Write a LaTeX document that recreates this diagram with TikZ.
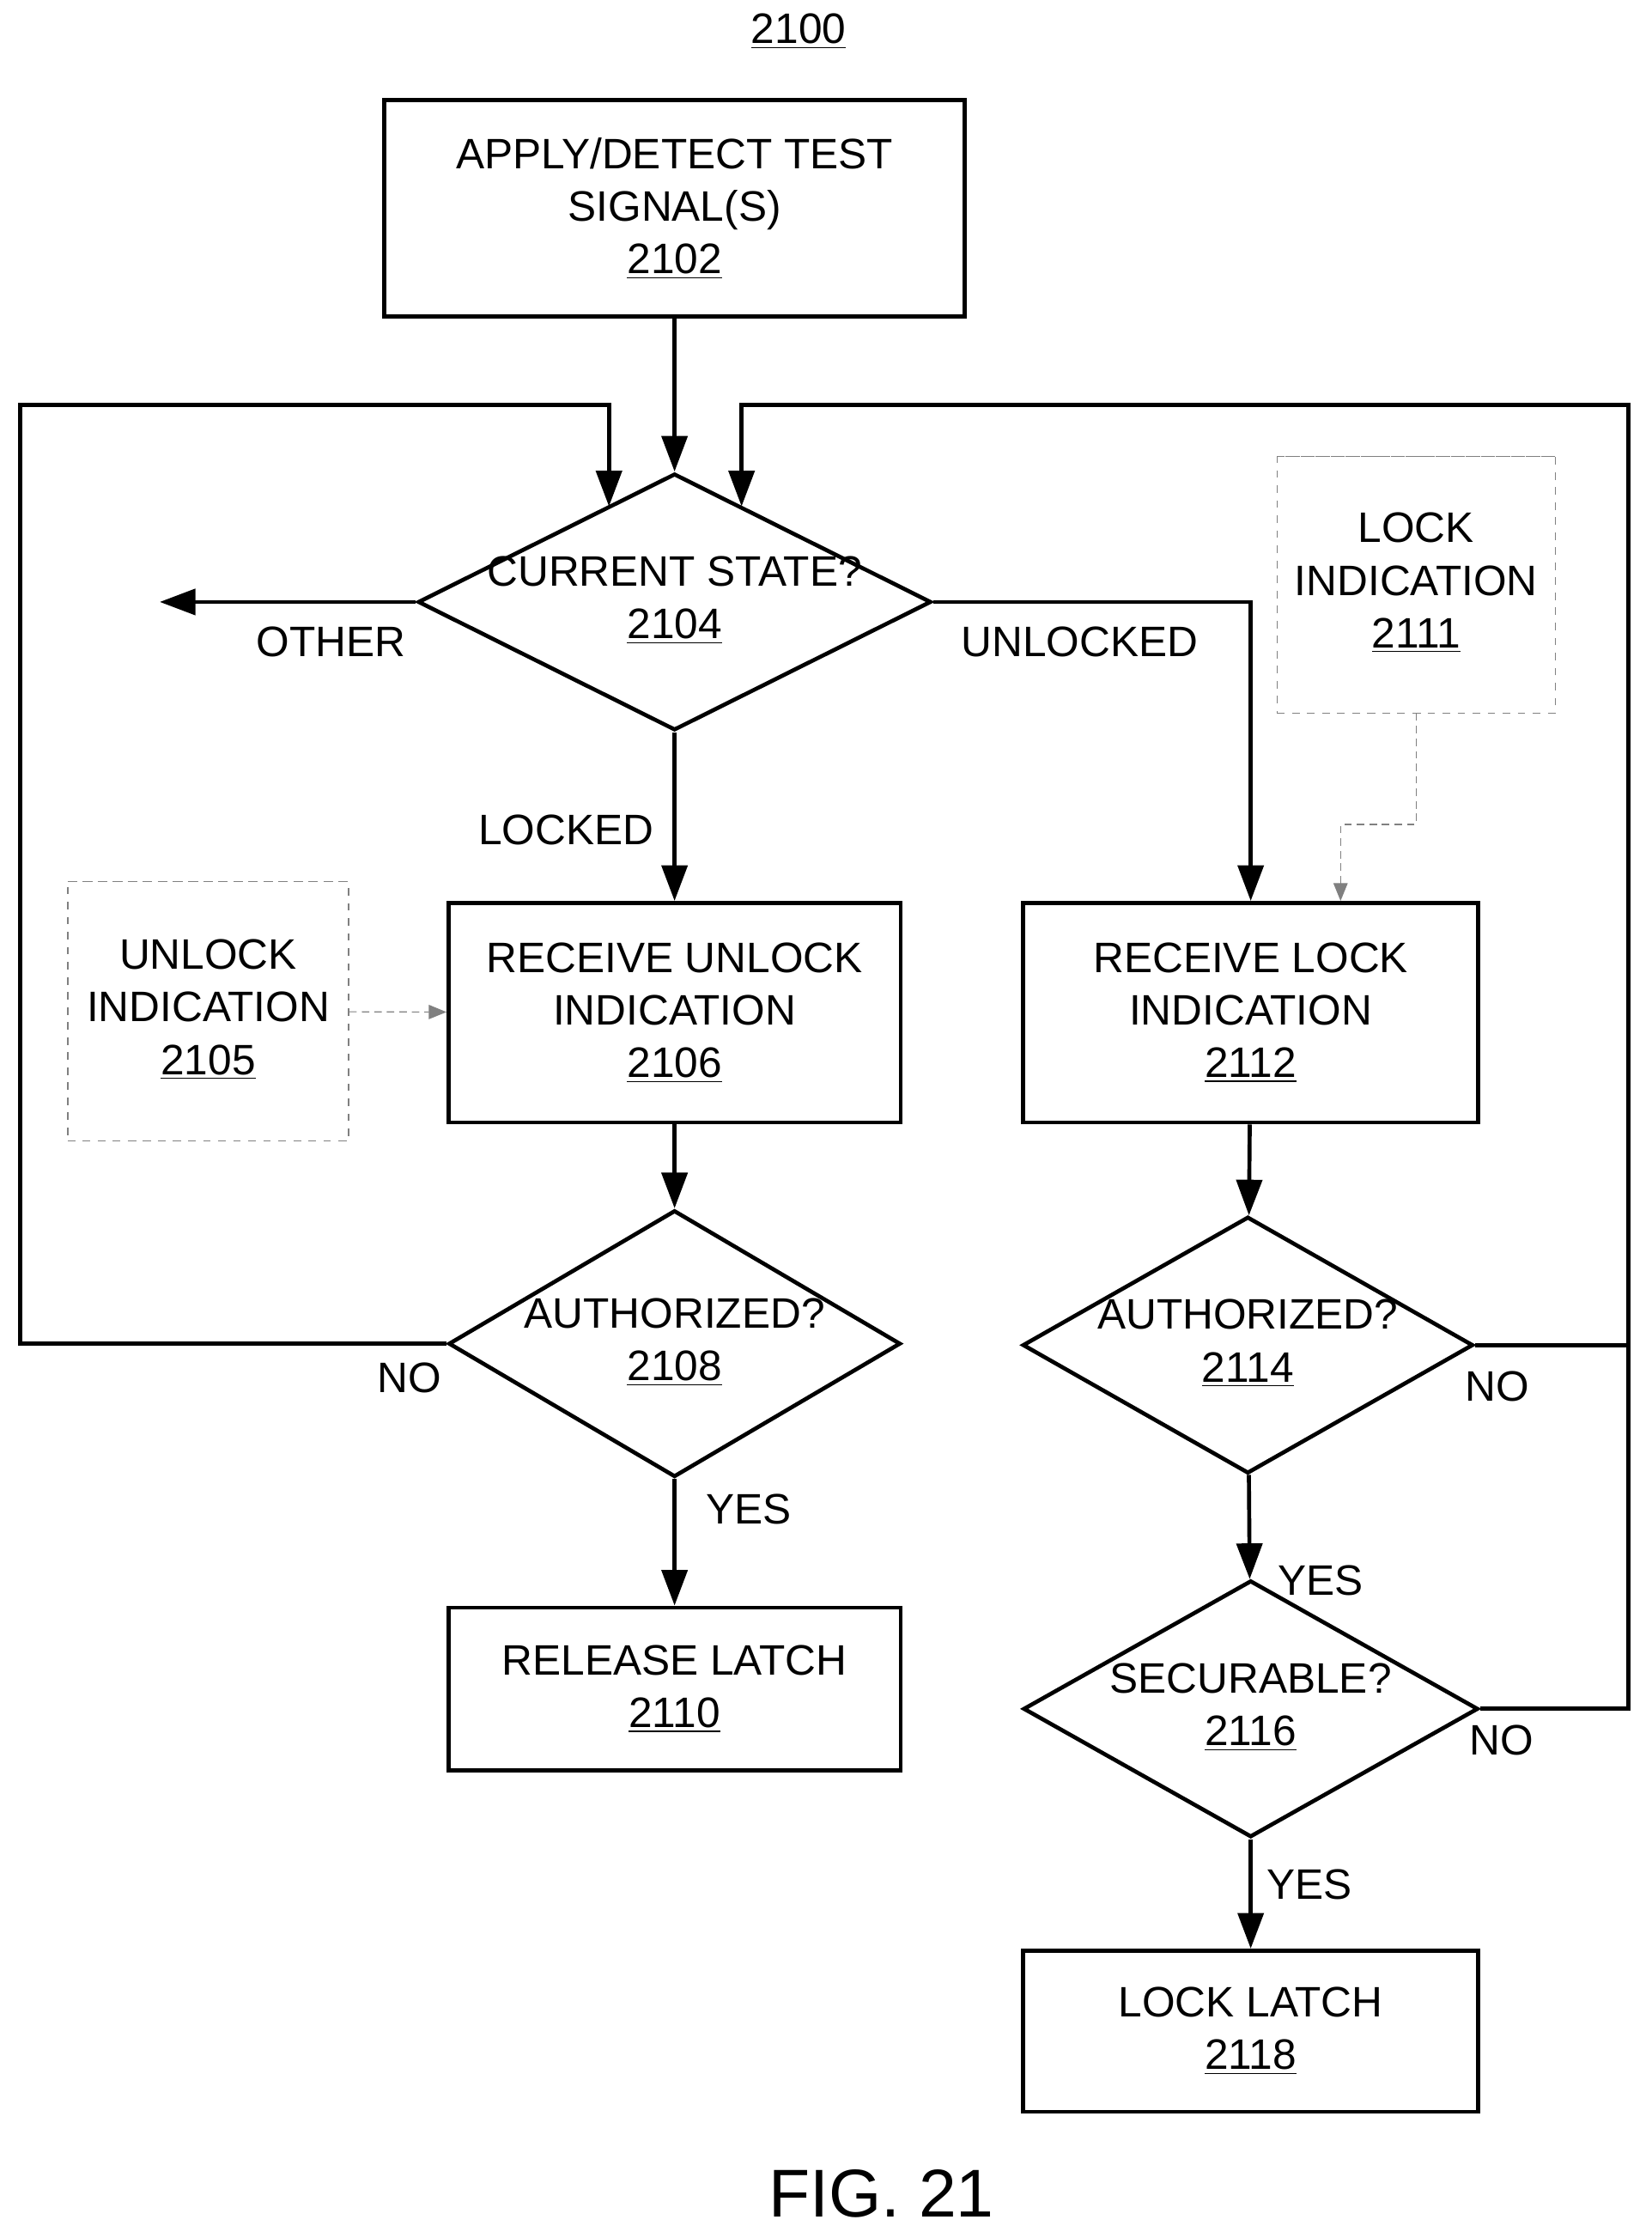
\documentclass[tikz,border=0pt]{standalone}
\usepackage{fontspec}
\setmainfont{Liberation Sans}
\usetikzlibrary{positioning, shapes.geometric, arrows.meta}
\tikzset{
	every node/.append style={
		font={\fontsize{17}{21}\selectfont},
	},
	proc/.append style={
		draw,
		line width=1.6pt,
		align=center,
	},
	decide/.append style={
		draw,
		shape=diamond,
		line width=1.6pt,
		inner sep=0pt,
	},
	store/.append style={
		draw=gray,
		dashed,
		shape=cylinder,
		shape border rotate=90,
		aspect=0.15,
		inner sep=0pt,
	},
	flow/.append style={
		line width=1.6pt,
		-{Triangle[length=5mm,width=3.6mm]},
	},
	plain/.append style={
		line width=1.6pt,
	},
	hint/.append style={
		draw=gray,
		densely dashed,
		-{Triangle[length=2.5mm,width=2mm]},
	},
}

\begin{document}
\begin{tikzpicture}[x=0.02cm,y=-0.02cm]
\useasboundingbox (0,0) rectangle (1158,1569);

\node(fig) at (560,22) {\underline{2100}};

\node(s2102)[proc, minimum width=8.14cm, minimum height=3.04cm] at (473,146) {APPLY/DETECT TEST\\SIGNAL(S)\\\underline{2102}};
\node(d2104)[decide, minimum width=7.2cm, minimum height=3.6cm, label=center:{\begin{tabular}{c}CURRENT STATE?\\\underline{2104}\end{tabular}}] at (473,422) {};

\node(s2106)[proc, minimum width=6.34cm, minimum height=3.08cm] at (473,710) {RECEIVE UNLOCK\\INDICATION\\\underline{2106}};
\node(s2112)[proc, minimum width=6.38cm, minimum height=3.08cm] at (877,710) {RECEIVE LOCK\\INDICATION\\\underline{2112}};

\node(c2105)[store, minimum width=3.94cm, minimum height=3.64cm, label=center:{\begin{tabular}{c}UNLOCK\\INDICATION\\\underline{2105}\end{tabular}}] at (146,709) {};
\node(c2111)[store, minimum width=3.9cm, minimum height=3.6cm, label=center:{\begin{tabular}{c}LOCK\\INDICATION\\\underline{2111}\end{tabular}}] at (993,410) {};

\node(d2108)[decide, minimum width=6.34cm, minimum height=3.74cm, label=center:{\begin{tabular}{c}AUTHORIZED?\\\underline{2108}\end{tabular}}] at (473,942) {};
\node(d2114)[decide, minimum width=6.32cm, minimum height=3.6cm, label=center:{\begin{tabular}{c}AUTHORIZED?\\\underline{2114}\end{tabular}}] at (875,943) {};
\node(d2116)[decide, minimum width=6.38cm, minimum height=3.6cm, label=center:{\begin{tabular}{c}SECURABLE?\\\underline{2116}\end{tabular}}] at (877,1198) {};

\node(s2110)[proc, minimum width=6.34cm, minimum height=2.28cm] at (473,1184) {RELEASE LATCH\\\underline{2110}};
\node(s2118)[proc, minimum width=6.38cm, minimum height=2.26cm] at (877,1424) {LOCK LATCH\\\underline{2118}};

\node(lblother) at (232,450) {OTHER};
\node(lblunl) at (757,450) {UNLOCKED};
\node(lbllck) at (397,582) {LOCKED};
\node(lblno1) at (287,966) {NO};
\node(lblyes1) at (525,1058) {YES};
\node(lblno2) at (1050,972) {NO};
\node(lblyes2) at (926,1108) {YES};
\node(lblno3) at (1053,1220) {NO};
\node(lblyes3) at (918,1321) {YES};

\node(caption) at (618,1538) {\fontsize{27}{32}\selectfont FIG. 21};

\coordinate(oth) at (112,422);
\coordinate(lft) at (14,284);
\coordinate(in1) at (427,355);
\coordinate(rgt) at (1142,284);
\coordinate(in2) at (520,355);
\coordinate(brk) at (940,578);

\draw[flow] (s2102) -- (d2104);
\draw[flow] (d2104.west) -- (oth);
\draw[flow] (d2104.east) -| (s2112.north);
\draw[flow] (d2104) -- (s2106);
\draw[hint] (c2105) -- (s2106);
\draw[hint] (c2111.south) |- (brk) -- (brk |- s2112.north);
\draw[flow] (s2106) -- (d2108);
\draw[flow] (d2108) -- (s2110);
\draw[flow] (d2108.west) -| (lft) -| (in1);
\draw[flow] (s2112) -- (d2114);
\draw[flow] (d2114) -- (d2116);
\draw[flow] (d2116) -- (s2118);
\draw[plain] (d2114.east) -- (d2114.east -| rgt);
\draw[flow] (d2116.east) -| (rgt) -| (in2);
\end{tikzpicture}
\end{document}
